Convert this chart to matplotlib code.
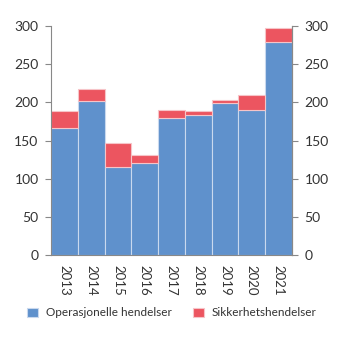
import numpy as np
import matplotlib
matplotlib.use("Agg")
import matplotlib.pyplot as plt

plt.rcParams['font.family'] = ['Lato', 'DejaVu Sans']

years = ["2013", "2014", "2015", "2016", "2017", "2018", "2019", "2020", "2021"]
operasjonelle = [167, 202, 115, 120, 180, 184, 199, 190, 279]
sikkerhet = [22, 16, 32, 11, 10, 4, 4, 20, 19]

blue = "#5f91cc"
red = "#ec5560"
grey = "#333333"

fig = plt.figure(figsize=(3.45, 3.41), dpi=100)
ax = fig.add_axes([51 / 345, 1 - 255 / 341, 241 / 345, 229 / 341])

x = np.arange(len(years))
ax.bar(x, operasjonelle, width=1.0, color=blue, edgecolor="#c9d9ee", linewidth=0.8,
       label="Operasjonelle hendelser")
ax.bar(x, sikkerhet, width=1.0, bottom=operasjonelle, color=red, edgecolor="#f6c4c8",
       linewidth=0.8, label="Sikkerhetshendelser")

ax.set_xlim(-0.5, len(years) - 0.5)
ax.set_ylim(0, 300)
ax.set_yticks(range(0, 301, 50))
ax.set_xticks(x)
ax.set_xticklabels(years, rotation=-90)
ax.tick_params(axis="x", length=0, pad=7, labelsize=9.5, colors=grey)
ax.tick_params(axis="y", length=4, width=0.8, labelsize=10, pad=5, colors=grey, color="#888888")
ax.spines["top"].set_visible(False)
for s in ["left", "right", "bottom"]:
    ax.spines[s].set_color("#888888")
    ax.spines[s].set_linewidth(0.8)

ax2 = ax.twinx()
ax2.set_ylim(0, 300)
ax2.set_yticks(range(0, 301, 50))
ax2.tick_params(axis="y", length=4, width=0.8, labelsize=10, pad=5, colors=grey, color="#888888")
for s in ["top", "left", "bottom"]:
    ax2.spines[s].set_visible(False)
ax2.spines["right"].set_color("#888888")
ax2.spines["right"].set_linewidth(0.8)

fig.legend(*ax.get_legend_handles_labels(), loc="center", bbox_to_anchor=(172 / 345, 1 - 313 / 341),
           ncol=2, frameon=False, fontsize=8.5, handlelength=0.9, handleheight=0.9,
           columnspacing=1.8, handletextpad=0.7, labelcolor=grey)

fig.savefig("out.png", dpi=100)
